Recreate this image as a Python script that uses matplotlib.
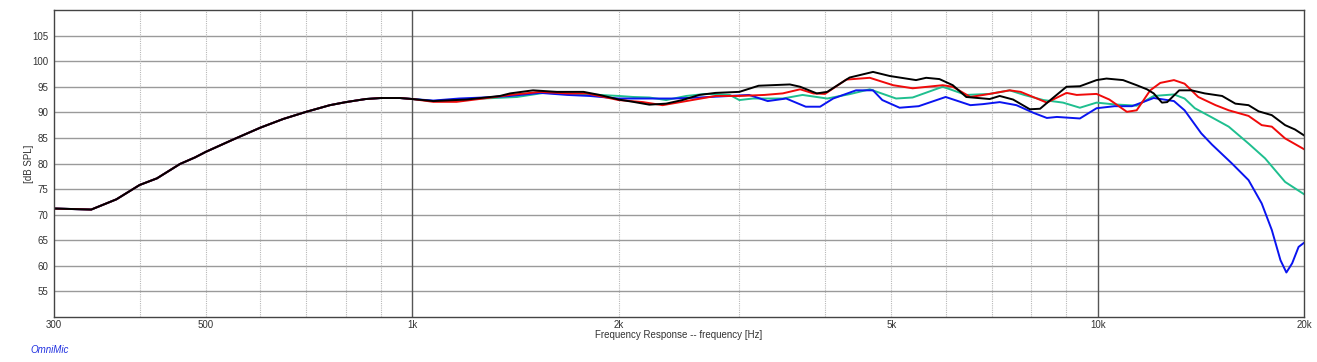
import numpy as np
import matplotlib
matplotlib.use("Agg")
import matplotlib.pyplot as plt
from matplotlib.ticker import FixedLocator, NullFormatter

# shared part below 1 kHz (all traces overlap)
low_freq = [300, 340, 370, 400, 424, 458, 482, 500, 548, 600, 648, 700, 758, 800, 855, 900, 959]
low_spl = [71.2, 71.0, 73.0, 75.8, 77.1, 79.9, 81.2, 82.3, 84.7, 87.0, 88.7, 90.1, 91.4, 92.0, 92.6, 92.8, 92.8]

black_freq = [1000, 1073, 1200, 1342, 1389, 1500, 1625, 1777, 1876, 2000, 2100, 2217, 2346, 2478,
              2622, 2770, 3000, 3201, 3555, 3680, 3891, 4030, 4345, 4701, 4973, 5432, 5620, 5876,
              6146, 6430, 6956, 7195, 7526, 7962, 8240, 8530, 9005, 9420, 9962, 10300, 10890,
              11400, 11800, 12070, 12410, 12630, 13150, 13700, 14330, 15190, 15880, 16600, 17170,
              17950, 18770, 19400, 20000]
black_spl = [92.6, 92.2, 92.5, 93.2, 93.7, 94.3, 94.0, 94.0, 93.4, 92.5, 92.05, 91.5, 91.7, 92.4,
             93.4, 93.8, 94.0, 95.2, 95.45, 95.0, 93.7, 94.0, 96.8, 97.9, 97.1, 96.3, 96.75, 96.5,
             95.3, 93.0, 92.6, 93.2, 92.5, 90.6, 90.7, 92.4, 95.0, 95.1, 96.3, 96.6, 96.3,
             95.3, 94.5, 93.7, 91.9, 92.0, 94.3, 94.3, 93.7, 93.2, 91.7, 91.4, 90.2,
             89.45, 87.5, 86.65, 85.5]

red_freq = [1000, 1073, 1160, 1269, 1389, 1536, 1683, 1797, 2000, 2170, 2318, 2510, 2770, 3000,
            3264, 3471, 3680, 3847, 4000, 4297, 4650, 5030, 5370, 5940, 6146, 6520, 6956, 7440,
            7720, 8430, 9005, 9320, 9962, 10400, 11030, 11400, 11930, 12340, 12920, 13390, 14020,
            14860, 15530, 16600, 17350, 17950, 18770, 20000]
red_spl = [92.6, 92.05, 92.05, 92.7, 93.4, 94.0, 93.7, 93.7, 92.4, 92.0, 91.4, 92.2, 93.2, 93.2,
           93.4, 93.7, 94.5, 93.7, 93.6, 96.4, 96.75, 95.3, 94.7, 95.3, 95.0, 93.0, 93.6, 94.3,
           94.0, 91.9, 93.8, 93.4, 93.6, 92.5, 90.1, 90.4, 94.3, 95.75, 96.3, 95.6, 93.0,
           91.4, 90.4, 89.3, 87.5, 87.2, 84.9, 82.8]

blue_freq = [1000, 1073, 1170, 1269, 1389, 1536, 1683, 1815, 2000, 2217, 2405, 2622, 2905, 3100,
             3300, 3511, 3750, 3935, 4112, 4440, 4701, 4850, 5140, 5480, 6000, 6520, 6800, 7195,
             7610, 8060, 8430, 8720, 9420, 9962, 10580, 11220, 12070, 12920, 13390, 14160, 14680,
             15700, 16600, 17350, 17950, 18480, 18850, 19220, 19640, 20000]
blue_spl = [92.6, 92.3, 92.7, 92.9, 93.2, 93.8, 93.4, 93.2, 92.7, 92.7, 92.7, 92.9, 93.2, 93.4,
            92.2, 92.7, 91.1, 91.1, 92.7, 94.3, 94.3, 92.4, 90.9, 91.2, 93.0, 91.4, 91.6, 92.0,
            91.4, 89.9, 88.9, 89.1, 88.8, 90.8, 91.2, 91.2, 92.8, 92.2, 90.4, 85.9, 83.7,
            80.0, 76.75, 72.2, 67.0, 61.1, 58.7, 60.5, 63.7, 64.5]

green_freq = [1000, 1073, 1269, 1421, 1556, 1727, 1876, 2000, 2100, 2217, 2346, 2510, 2680, 2905,
              3000, 3140, 3471, 3710, 4030, 4345, 4650, 5080, 5370, 5940, 6430, 6956, 7440, 7810,
              8335, 8900, 9420, 9962, 10580, 11400, 12070, 12920, 13390, 13860, 14680, 15530,
              16600, 17550, 18770, 20000]
green_spl = [92.6, 92.2, 92.7, 93.0, 93.8, 93.6, 93.4, 93.2, 93.0, 92.9, 92.4, 93.2, 93.6, 93.4,
             92.4, 92.7, 92.7, 93.4, 92.7, 93.55, 94.5, 92.7, 92.9, 95.0, 93.4, 93.6, 94.3, 93.4,
             92.4, 91.9, 90.9, 91.9, 91.55, 91.3, 93.2, 93.5, 92.7, 90.8, 89.0, 87.2,
             83.9, 81.0, 76.4, 74.0]

traces = [
    (green_freq, green_spl, "#1fbf8f"),
    (blue_freq, blue_spl, "#0a14f0"),
    (red_freq, red_spl, "#f00a0a"),
    (black_freq, black_spl, "#000000"),
]

plt.rcParams['font.family'] = ['Liberation Sans', 'DejaVu Sans']

fig = plt.figure(figsize=(13.17, 3.62), dpi=100)
ax = fig.add_axes([54 / 1317, 1 - 317 / 362, 1250 / 1317, 307 / 362])

for freq, spl, color in traces:
    f = low_freq + freq
    s = low_spl + spl
    ax.plot(f, s, color=color, lw=1.4, solid_joinstyle="round")

ax.set_xscale("log")
ax.set_xlim(300, 20000)
ax.set_ylim(50, 110)

# grid lines
for y in range(55, 110, 5):
    ax.axhline(y, color="#9a9a9a", lw=1.0, zorder=0)
minor = [400, 500, 600, 700, 800, 900, 2000, 3000, 4000, 5000, 6000, 7000, 8000, 9000]
for x in minor:
    ax.axvline(x, color="#b8b8b8", lw=0.8, ls=(0, (1, 1)), zorder=0)
for x in [1000, 10000]:
    ax.axvline(x, color="#555555", lw=1.0, zorder=0)

xticks = [300, 500, 1000, 2000, 5000, 10000, 20000]
xlabels = ["300", "500", "1k", "2k", "5k", "10k", "20k"]
ax.xaxis.set_major_locator(FixedLocator(xticks))
ax.set_xticklabels(xlabels)
ax.xaxis.set_minor_formatter(NullFormatter())
ax.xaxis.set_minor_locator(FixedLocator([]))
ax.set_yticks(range(55, 110, 5))
ax.tick_params(length=0, labelsize=7, colors="#333333")
ax.tick_params(axis="x", pad=2)
ax.tick_params(axis="y", pad=4)

for sp in ax.spines.values():
    sp.set_color("#444444")
    sp.set_linewidth(1.0)

ax.set_ylabel("[dB SPL]", fontsize=7, color="#333333")
ax.yaxis.set_label_coords(-20 / 1250, 0.5)
ax.set_xlabel("Frequency Response -- frequency [Hz]", fontsize=7, color="#333333", labelpad=0)
fig.text(30 / 1317, 1 - 350 / 362, "OmniMic", fontsize=7, color="#2030e0", style="italic", va="center")

fig.savefig("out.png", dpi=100)
